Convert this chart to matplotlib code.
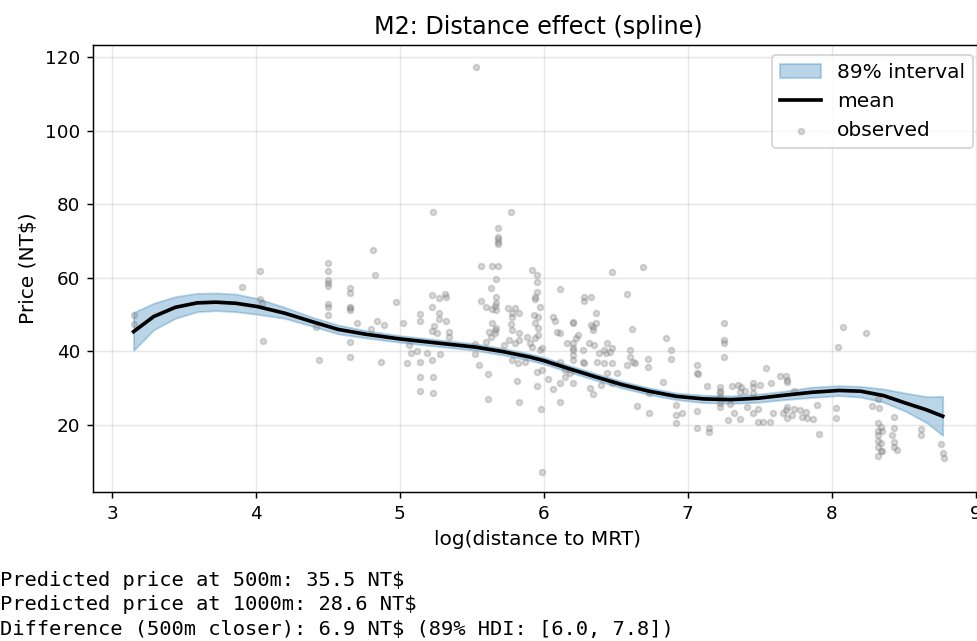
import matplotlib
matplotlib.use("Agg")
import matplotlib.pyplot as plt

# observed points (log distance, price)
obs_x = [3.15, 3.15, 3.90, 4.03, 4.03, 4.04, 4.05, 4.44, 4.42,
         4.50, 4.50, 4.50, 4.50, 4.50, 4.50, 4.50, 4.50,
         5.23, 4.81, 4.83, 4.65, 4.65, 4.65, 4.65, 4.65, 4.70, 4.84, 4.89, 4.80, 4.65, 4.65, 4.87,
         4.97, 5.02, 5.14, 5.14, 5.22, 5.22, 5.27, 5.31, 5.32, 5.27, 5.27, 5.24, 5.22, 5.26, 5.32,
         5.34, 5.34, 5.06, 5.08, 5.12, 5.19, 5.28, 5.05, 5.14, 5.22, 5.14, 5.23, 5.14, 5.23,
         5.56, 5.56, 5.60, 5.62, 5.63, 5.52, 5.52, 5.55, 5.61, 5.61, 5.53,
         5.77, 5.68, 5.68, 5.68, 5.68, 5.68, 5.64, 5.68, 5.67, 5.63, 5.67, 5.67, 5.66, 5.67,
         5.64, 5.75, 5.80, 5.78, 5.83, 5.78, 5.92, 5.95, 5.95, 5.95, 5.94, 5.94, 5.97, 5.93,
         5.96, 6.11, 6.06, 6.08, 6.20, 5.64, 5.67, 5.66, 5.77, 5.78, 5.83, 5.94, 5.96, 6.09, 6.11,
         5.81, 5.83, 5.98, 5.99, 5.95, 5.95, 6.03, 6.06, 6.11, 6.11, 6.20, 6.18, 6.15, 5.82,
         5.87, 5.99, 5.80, 5.83, 5.88, 5.90, 5.92, 5.97, 5.99, 5.96, 5.94, 6.16, 6.20, 6.22,
         6.20, 6.15, 6.11, 5.66, 5.72, 5.60, 5.76, 5.78,
         6.47, 6.69, 6.28, 6.28, 6.33, 6.58, 6.36, 6.20, 6.33, 6.34, 6.36, 6.34, 6.61, 6.85,
         6.20, 6.20, 6.20, 6.24, 6.27, 6.31, 6.35, 6.38, 6.44, 6.43, 6.47, 6.46, 6.42, 6.60,
         6.60, 6.62, 6.63, 6.58, 6.72, 6.72, 6.88, 6.88, 6.27, 6.28, 6.37, 6.42, 6.47, 6.32,
         6.34, 6.40, 6.47, 6.51, 6.44, 6.73, 6.65, 6.73, 6.83, 6.92, 6.92, 6.92, 6.96, 7.06,
         7.06, 7.07, 7.06, 7.13, 7.06, 7.15,
         7.25, 7.25, 7.25, 7.25, 8.08, 8.04, 7.54, 7.64, 7.68, 7.69, 7.69, 7.58, 7.22, 7.22,
         7.22, 7.22, 7.31, 7.35, 7.37, 7.40, 7.36, 7.45, 7.45, 7.45, 7.50, 7.74, 7.22, 7.22,
         7.29, 7.32, 7.36, 7.28, 7.41, 7.45, 7.49, 7.49, 7.52, 7.57, 7.59, 7.66, 7.68, 7.69,
         7.69, 7.72, 7.74, 7.78, 7.79, 7.82, 7.83, 7.87, 7.90, 7.91, 8.03, 8.03, 7.15,
         8.24, 8.32, 8.28, 8.33, 8.32, 8.34, 8.32, 8.35, 8.32, 8.32, 8.34, 8.32, 8.34, 8.35,
         8.32, 8.43, 8.43, 8.42, 8.43, 8.43, 8.45, 8.62, 8.62, 8.76, 8.77, 8.78]
obs_y = [49.9, 47.4, 57.5, 61.8, 54.2, 53.3, 42.8, 37.7, 46.6,
         64.0, 62.0, 59.4, 58.6, 57.8, 53.0, 52.0, 50.0,
         77.9, 67.6, 60.8, 57.2, 55.9, 52.0, 51.8, 51.2, 47.7, 48.3, 47.2, 46.0, 42.6, 38.5, 37.0,
         53.4, 47.7, 50.2, 48.3, 55.3, 52.0, 54.5, 55.6, 54.8, 50.4, 48.8, 46.9, 45.5, 45.0, 48.3,
         45.3, 43.9, 41.7, 39.6, 40.1, 39.6, 39.3, 36.8, 37.1, 37.7, 33.0, 33.0, 29.2, 28.7,
         63.2, 53.7, 52.0, 45.3, 43.9, 42.0, 39.3, 36.3, 33.9, 27.0, 117.3,
         77.9, 73.5, 71.1, 70.5, 69.7, 69.2, 63.2, 63.2, 59.7, 57.2, 54.8, 53.2, 52.3, 51.2,
         51.5, 51.8, 51.8, 50.4, 50.4, 49.3, 62.1, 60.8, 58.9, 56.1, 54.8, 54.2, 52.0, 49.9,
         49.3, 57.0, 49.3, 48.3, 47.7, 47.7, 46.4, 45.8, 47.4, 45.8, 45.0, 47.7, 46.4, 45.3, 45.0,
         32.0, 26.3, 24.3, 7.2, 34.4, 30.6, 32.5, 29.8, 31.4, 26.3, 31.4, 34.1, 33.0, 36.8,
         37.1, 35.0, 42.3, 43.1, 43.9, 42.3, 41.2, 40.4, 40.9, 44.5, 43.6, 42.3, 40.9, 43.6,
         37.7, 35.0, 37.1, 45.0, 41.7, 42.6, 43.1, 37.7,
         61.6, 62.9, 54.8, 53.7, 54.8, 55.6, 50.4, 48.0, 47.2, 46.6, 47.7, 45.8, 46.0, 43.6,
         42.3, 40.4, 39.0, 44.5, 40.4, 42.3, 41.7, 39.6, 42.3, 39.6, 40.9, 39.8, 40.4, 40.4,
         38.5, 37.1, 36.8, 36.3, 37.9, 35.8, 40.4, 37.9, 37.1, 36.8, 37.1, 36.8, 36.8, 30.0,
         28.4, 30.9, 31.4, 34.1, 34.1, 28.7, 25.2, 23.3, 31.7, 25.4, 22.7, 20.5, 23.3, 36.3,
         34.1, 33.9, 23.8, 30.6, 19.2, 19.2,
         47.7, 43.1, 42.3, 38.5, 46.6, 41.2, 35.5, 33.3, 33.3, 31.7, 32.2, 31.4, 30.3, 29.2,
         28.7, 27.6, 30.6, 30.9, 30.3, 29.2, 29.0, 31.4, 30.3, 28.7, 30.9, 29.2, 26.0, 24.9,
         25.7, 23.3, 21.6, 21.4, 24.9, 23.3, 24.3, 20.8, 20.8, 20.8, 23.3, 23.3, 24.1, 24.9,
         21.9, 22.7, 24.3, 24.1, 22.2, 23.5, 21.9, 21.6, 25.4, 17.6, 24.6, 21.9, 18.1,
         45.0, 27.1, 25.2, 24.6, 20.5, 19.5, 18.4, 18.4, 17.3, 15.7, 15.1, 14.0, 12.9, 12.9,
         11.6, 22.2, 19.2, 17.3, 15.4, 14.0, 13.2, 18.9, 17.3, 14.8, 12.4, 11.0]

# posterior mean and 89% band of the spline, read at knots
grid_x = [3.15, 3.29, 3.44, 3.59, 3.72, 3.86, 4.01, 4.20, 4.39, 4.57, 4.76, 5.0,
          5.26, 5.52, 5.71, 5.90, 6.0, 6.16, 6.35, 6.54, 6.73, 6.92, 7.11, 7.30,
          7.49, 7.67, 7.86, 8.05, 8.20, 8.36, 8.51, 8.66, 8.77]
mu_mean = [45.4, 49.5, 52.0, 53.2, 53.4, 53.1, 52.2, 50.4, 48.1, 46.0, 44.7, 43.4,
           42.3, 41.2, 40.0, 38.5, 37.5, 35.5, 33.2, 31.0, 29.2, 27.8, 27.1, 26.9,
           27.3, 28.1, 28.9, 29.4, 29.2, 28.0, 26.0, 24.1, 22.4]
mu_low = [40.3, 45.9, 49.0, 50.8, 51.1, 50.8, 50.1, 49.0, 46.9, 44.8, 43.7, 42.5,
          41.4, 40.3, 39.1, 37.6, 36.6, 34.6, 32.3, 30.1, 28.3, 26.9, 26.1, 25.9,
          26.2, 26.9, 27.5, 28.0, 27.6, 26.2, 23.8, 20.6, 17.2]
mu_high = [50.6, 53.1, 54.9, 55.8, 55.9, 55.6, 54.4, 52.0, 49.3, 47.2, 45.7, 44.3,
           43.2, 42.1, 40.9, 39.4, 38.4, 36.4, 34.1, 31.9, 30.1, 28.7, 28.1, 27.9,
           28.4, 29.2, 30.3, 30.7, 30.5, 29.8, 28.7, 27.7, 27.8]

notes = ["Predicted price at 500m: 35.5 NT\\$",
         "Predicted price at 1000m: 28.6 NT\\$",
         "Difference (500m closer): 6.9 NT\\$ (89% HDI: [6.0, 7.8])"]

fig = plt.figure(figsize=(977 / 132, 641 / 132), dpi=132)
ax = fig.add_axes([93 / 977, 149 / 641, 890 / 977, 447 / 641])

ax.fill_between(grid_x, mu_low, mu_high, color="C0", alpha=0.3, label="89% interval")
ax.plot(grid_x, mu_mean, color="black", lw=2, label="mean")
ax.scatter(obs_x, obs_y, s=10, color="gray", alpha=0.3, label="observed")

ax.set_xlim(2.868, 9.05)
ax.set_ylim(1.8, 123.3)
ax.set_xlabel("log(distance to MRT)", fontsize=11)
ax.set_ylabel("Price (NT\\$)", fontsize=11)
ax.set_title("M2: Distance effect (spline)", fontsize=13)
ax.grid(True, alpha=0.3)
ax.legend(loc="upper right", fontsize=11)

for i, line in enumerate(notes):
    fig.text(0.0, (641 - 580 - 25 * i) / 641, line, family="DejaVu Sans Mono",
             fontsize=11.1, va="center", ha="left")

fig.savefig("out.png", dpi=132)
